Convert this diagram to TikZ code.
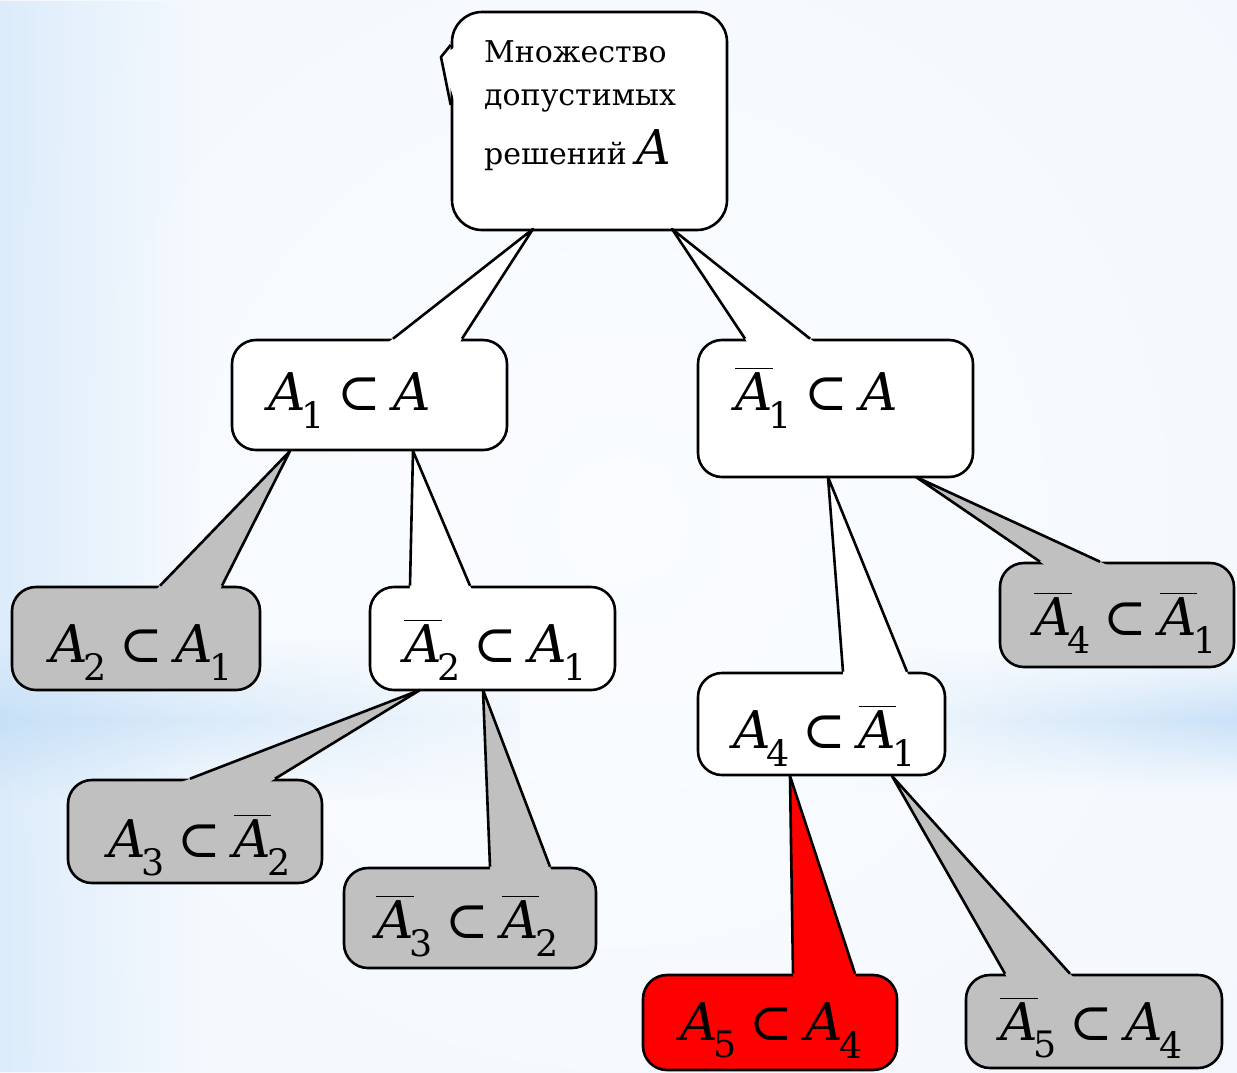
\documentclass[tikz,border=0pt]{standalone}
\usepackage{amsmath}
\usepackage{fontspec}
\setmainfont{DejaVu Serif}
\usetikzlibrary{calc,fadings}
\definecolor{bgpale}{RGB}{241,247,253}
\definecolor{bgcenter}{RGB}{250,252,255}
\definecolor{bgblue}{RGB}{215,233,250}
\definecolor{bandblue}{RGB}{195,222,247}
\definecolor{boxgray}{RGB}{192,192,192}
\definecolor{boxred}{RGB}{255,0,0}
\tikzfading[name=bandfade, top color=transparent!100, bottom color=transparent!100, middle color=transparent!15]
\tikzfading[name=fadeR, left color=transparent!0, right color=transparent!100]
\newcommand\Ai{\text{\itshape A}}
\newcommand\mA[1]{\Ai_{\kern-0.08em\text{#1}}}
\newcommand\bA[1]{\overline{\Ai}_{\kern-0.08em\text{#1}}}
\newcommand\sbs{\mskip4mu\mathrel{\text{⊂}}\mskip4mu}
\tikzset{
  bubble/.style={draw=black, line width=2.6pt, rounded corners=24pt, inner sep=0pt},
  edge/.style={draw=black, line width=2.6pt, line join=round},
  lbl/.style={anchor=base west, inner sep=0pt, font=\fontsize{52}{58}\selectfont},
}
% body: name, fill, cx, cy, w, h
\newcommand\bub[6]{\node[bubble, fill=#2, minimum width=#5pt, minimum height=#6pt] (#1) at (#3,#4) {};}
% tail: child, fill, base x1, base x2, tip coordinate
\newcommand\tailto[5]{%
  \fill[#2] ($(#5)!1.05!(#3,0 |- #1.north)$) -- (#5) -- ($(#5)!1.05!(#4,0 |- #1.north)$) -- cycle;
  \draw[edge] (#3,0 |- #1.north) -- (#5) -- (#4,0 |- #1.north);}
\begin{document}
\begin{tikzpicture}[x=1pt,y=-1pt]
\useasboundingbox (0,0) rectangle (1237,1072);
% background
\fill[bgpale] (0,0) rectangle (1237,1072);
\shade[inner color=bgcenter, outer color=bgpale] (620,520) ellipse [x radius=1100, y radius=1100];
\fill[bgblue, path fading=fadeR, fill opacity=0.8] (0,0) rectangle (200,1072);
\shade[left color=bandblue, right color=bgpale, path fading=bandfade] (0,640) rectangle (520,800);
\shade[left color=bgpale, right color=bandblue, path fading=bandfade] (860,650) rectangle (1237,790);
% tail tip coordinates
\coordinate (rt) at (441,57);
\coordinate (t1) at (533,229);
\coordinate (t2) at (672,229);
\coordinate (t3) at (290,451);
\coordinate (t4) at (413,451);
\coordinate (t5) at (420,690);
\coordinate (t6) at (483,690);
\coordinate (t7) at (828,477);
\coordinate (t8) at (916,477);
\coordinate (t9) at (790,776);
\coordinate (t10) at (892,776);
% root
\node[bubble, rounded corners=30pt, fill=white, minimum width=275pt, minimum height=218pt] (root) at (589.5,121) {};
\fill[white] (455,47) -- (rt) -- (455,103) -- cycle;
\draw[edge] (root.west |- 0,45) -- (rt) -- (root.west |- 0,105);
\node[anchor=north west, inner sep=0pt, align=left, font=\fontsize{30}{43}\selectfont] (rootlbl) at (484,40)
  {Множество\\допустимых\\[16pt]решений~{\fontsize{48}{48}\selectfont\itshape A}};
% level 1
\bub{n1}{white}{369.5}{395}{275}{110}
\tailto{n1}{white}{393}{462}{t1}
\bub{n2}{white}{835.5}{408.5}{275}{137}
\tailto{n2}{white}{745}{810}{t2}
% level 2
\bub{n3}{boxgray}{136}{638.5}{248}{103}
\tailto{n3}{boxgray}{160}{222}{t3}
\bub{n4}{white}{492.5}{638.5}{245}{103}
\tailto{n4}{white}{410}{470}{t4}
\bub{n7}{white}{821.5}{724}{247}{102}
\tailto{n7}{white}{843}{907}{t7}
\bub{n8}{boxgray}{1117}{615}{234}{104}
\tailto{n8}{boxgray}{1040}{1100}{t8}
% level 3
\bub{n5}{boxgray}{195}{831.5}{254}{103}
\tailto{n5}{boxgray}{190}{275}{t5}
\bub{n6}{boxgray}{470}{918}{252}{100}
\tailto{n6}{boxgray}{490}{550}{t6}
\bub{n9}{boxred}{770}{1022.5}{254}{95}
\tailto{n9}{boxred}{793}{855}{t9}
\bub{n10}{boxgray}{1094}{1021.5}{256}{93}
\tailto{n10}{boxgray}{1005}{1070}{t10}
% labels
\node[lbl] (l1) at (268,410) {$\mA{1}\sbs\Ai$};
\node[lbl] (l2) at (735,410) {$\bA{1}\sbs\Ai$};
\node[lbl] (l3) at (50,662) {$\mA{2}\sbs\mA{1}$};
\node[lbl] (l4) at (404,662) {$\bA{2}\sbs\mA{1}$};
\node[lbl] (l5) at (108,857) {$\mA{3}\sbs\bA{2}$};
\node[lbl] (l6) at (376,938) {$\bA{3}\sbs\bA{2}$};
\node[lbl] (l7) at (733,748) {$\mA{4}\sbs\bA{1}$};
\node[lbl] (l8) at (1034,635) {$\bA{4}\sbs\bA{1}$};
\node[lbl] (l9) at (680,1040) {$\mA{5}\sbs\mA{4}$};
\node[lbl] (l10) at (1000,1040) {$\bA{5}\sbs\mA{4}$};
\end{tikzpicture}
\end{document}
